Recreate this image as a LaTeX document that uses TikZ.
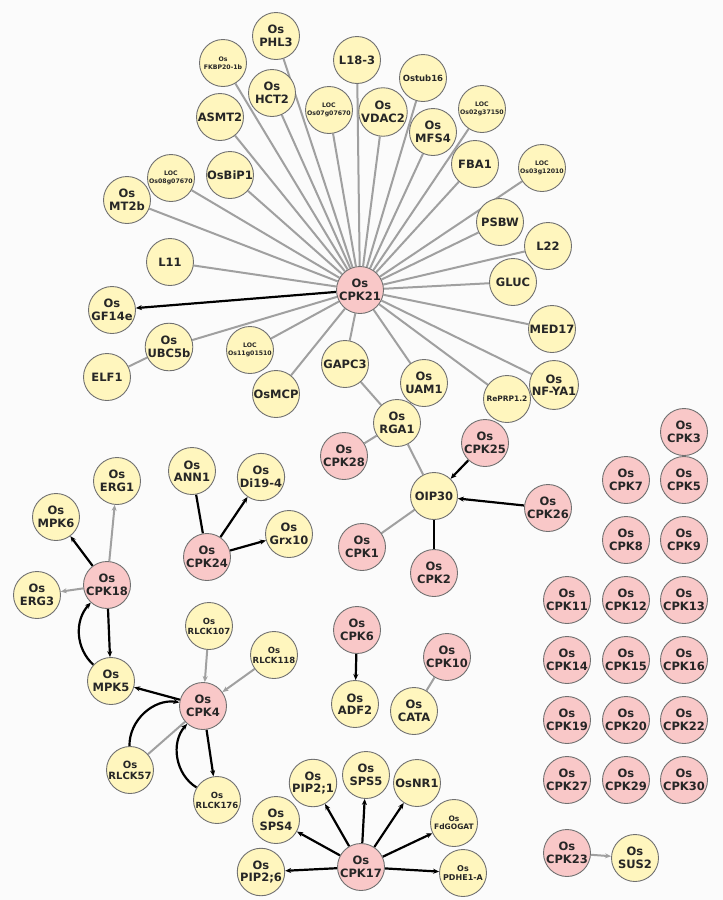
\documentclass[tikz,border=0pt]{standalone}
\usepackage{fontspec}
\setmainfont{DejaVu Sans}
\usetikzlibrary{arrows.meta,backgrounds}
\definecolor{yel}{HTML}{FFF6BE}
\definecolor{pnk}{HTML}{F9C8C8}
\definecolor{bd}{HTML}{707070}
\definecolor{eg}{HTML}{A0A0A0}
\definecolor{bgc}{HTML}{FBFBFB}
\begin{document}
\begin{tikzpicture}[x=1pt,y=-1pt,
 n/.style={circle,draw=bd,line width=0.9pt,minimum size=47pt,inner sep=0pt,align=center,font=\bfseries\fontsize{11.5}{12.5}\selectfont,text=black!85},
 Y/.style={n,fill=yel}, P/.style={n,fill=pnk},
 sm/.style={font=\bfseries\fontsize{8.5}{10}\selectfont},
 tn/.style={font=\bfseries\fontsize{6.2}{7.5}\selectfont},
 g/.style={draw=eg,line width=2pt},
 b/.style={draw=black,line width=2.2pt},
 ga/.style={g,-{Stealth[length=6pt,width=5pt]}},
 ba/.style={b,-{Stealth[length=6pt,width=5pt]}}]
\useasboundingbox (0,0) rectangle (723,900);
\node[P] (c21) at (360,290) {Os\\CPK21};
\node[Y] (phl3) at (276,36) {Os\\PHL3};
\node[Y,tn] (fkbp) at (223,63) {Os\\FKBP20-1b};
\node[Y] (l183) at (357,60) {L18-3};
\node[Y] (hct2) at (272,93) {Os\\HCT2};
\node[Y,sm] (ostub) at (423,78) {Ostub16};
\node[Y,tn] (loc07) at (329,110) {LOC\\Os07g07670};
\node[Y] (vdac2) at (383,112) {Os\\VDAC2};
\node[Y,tn] (loc02) at (482,109) {LOC\\Os02g37150};
\node[Y] (asmt2) at (220,117) {ASMT2};
\node[Y] (mfs4) at (433,132) {Os\\MFS4};
\node[Y] (fba1) at (475,164) {FBA1};
\node[Y,tn] (loc03) at (542,168) {LOC\\Os03g12010};
\node[Y,tn] (loc08) at (171,178) {LOC\\Os08g07670};
\node[Y] (bip1) at (230,175) {OsBiP1};
\node[Y] (mt2b) at (127,200) {Os\\MT2b};
\node[Y] (psbw) at (500,222) {PSBW};
\node[Y] (l22) at (548,246) {L22};
\node[Y] (l11) at (170,262) {L11};
\node[Y] (gluc) at (513,282) {GLUC};
\node[Y] (gf14e) at (112,310) {Os\\GF14e};
\node[Y] (med17) at (552,329) {MED17};
\node[Y] (ubc5b) at (169,347) {Os\\UBC5b};
\node[Y,tn] (loc11) at (250,350) {LOC\\Os11g01510};
\node[Y] (elf1) at (107,377) {ELF1};
\node[Y] (gapc3) at (345,364) {GAPC3};
\node[Y] (osmcp) at (276,394) {OsMCP};
\node[Y] (uam1) at (424,383) {Os\\UAM1};
\node[Y,font=\bfseries\fontsize{7.5}{8.5}\selectfont] (reprp) at (507,399) {RePRP1.2};
\node[Y] (nfya1) at (554,385) {Os\\NF-YA1};
\node[Y] (rga1) at (397,423) {Os\\RGA1};
\node[P] (c28) at (344,456) {Os\\CPK28};
\node[P] (c25) at (485,443) {Os\\CPK25};
\node[Y] (oip30) at (434,496) {OIP30};
\node[P] (c26) at (548,508) {Os\\CPK26};
\node[P] (c1) at (362,547) {Os\\CPK1};
\node[P] (c2) at (434,573) {Os\\CPK2};
\node[Y] (erg1) at (117,481) {Os\\ERG1};
\node[Y] (mpk6) at (56,517) {Os\\MPK6};
\node[Y] (ann1) at (192,471) {Os\\ANN1};
\node[Y] (di19) at (261,477) {Os\\Di19-4};
\node[Y] (grx10) at (289,534) {Os\\Grx10};
\node[P] (c24) at (207,557) {Os\\CPK24};
\node[P] (c18) at (107,585) {Os\\CPK18};
\node[Y] (erg3) at (37,595) {Os\\ERG3};
\node[Y,sm] (r107) at (209,626) {Os\\RLCK107};
\node[Y,sm] (r118) at (274,655) {Os\\RLCK118};
\node[Y] (mpk5) at (111,681) {Os\\MPK5};
\node[P] (c4) at (203,706) {Os\\CPK4};
\node[P] (c6) at (357,630) {Os\\CPK6};
\node[Y] (adf2) at (355,704) {Os\\ADF2};
\node[P] (c10) at (447,657) {Os\\CPK10};
\node[Y] (cata) at (414,711) {Os\\CATA};
\node[Y,font=\bfseries\fontsize{10}{11}\selectfont] (r57) at (130,770) {Os\\RLCK57};
\node[Y,sm] (r176) at (217,800) {Os\\RLCK176};
\node[Y] (pip21) at (313,783) {Os\\PIP2;1};
\node[Y] (sps5) at (366,775) {Os\\SPS5};
\node[Y] (nr1) at (417,783) {OsNR1};
\node[Y] (sps4) at (276,820) {Os\\SPS4};
\node[Y,font=\bfseries\fontsize{7.5}{8.5}\selectfont] (fdg) at (454,823) {Os\\FdGOGAT};
\node[Y,font=\bfseries\fontsize{8}{9}\selectfont] (pdhe) at (463,873) {Os\\PDHE1-A};
\node[Y] (pip26) at (261,872) {Os\\PIP2;6};
\node[P] (c17) at (361,867) {Os\\CPK17};
\foreach \nm/\xx/\yy in {3/684/432,7/626/480,5/684/480,8/626/540,9/684/540,11/567/600,12/626/600,13/684/600,14/567/660,15/626/660,16/684/660,19/567/720,20/626/720,22/684/720,27/567/780,29/626/780,30/684/780}
  \node[P] (c\nm) at (\xx,\yy) {Os\\CPK\nm};
\node[P] (c23) at (567,853) {Os\\CPK23};
\node[Y] (sus2) at (635,858) {Os\\SUS2};
\begin{scope}[on background layer]
\fill[bgc] (0,0) rectangle (723,900);
\foreach \t in {phl3,fkbp,l183,hct2,ostub,loc07,vdac2,loc02,asmt2,mfs4,fba1,loc03,loc08,bip1,mt2b,psbw,l22,l11,gluc,med17,ubc5b,loc11,gapc3,osmcp,uam1,reprp,nfya1}
  \draw[g] (c21) -- (\t);
\draw[ba] (c21) -- (gf14e);
\draw[g] (ubc5b) -- (elf1);
\draw[g] (gapc3) -- (rga1);
\draw[g] (uam1) -- (rga1);
\draw[g] (rga1) -- (c28);
\draw[g] (rga1) -- (oip30);
\draw[ba] (c25) -- (oip30);
\draw[ba] (c26) -- (oip30);
\draw[g] (oip30) -- (c1);
\draw[b] (oip30) -- (c2);
\draw[ga] (c18) -- (erg1);
\draw[ba] (c18) -- (mpk6);
\draw[ga] (c18) -- (erg3);
\draw[ba] (c18) -- (mpk5);
\draw[ba] (mpk5) to[bend left=45] (c18);
\draw[b] (c24) -- (ann1);
\draw[ba] (c24) -- (di19);
\draw[ba] (c24) -- (grx10);
\draw[ga] (r107) -- (c4);
\draw[ga] (r118) -- (c4);
\draw[ba] (c4) -- (mpk5);
\draw[g] (c4) -- (r57);
\draw[ba] (r57) to[bend left=50] (c4);
\draw[ba] (c4) -- (r176);
\draw[ba] (r176) to[bend left=50] (c4);
\draw[ba] (c6) -- (adf2);
\draw[g] (c10) -- (cata);
\draw[ga] (c23) -- (sus2);
\foreach \t in {pip26,sps4,pip21,sps5,nr1,fdg,pdhe}
  \draw[ba] (c17) -- (\t);
\end{scope}
\end{tikzpicture}
\end{document}
